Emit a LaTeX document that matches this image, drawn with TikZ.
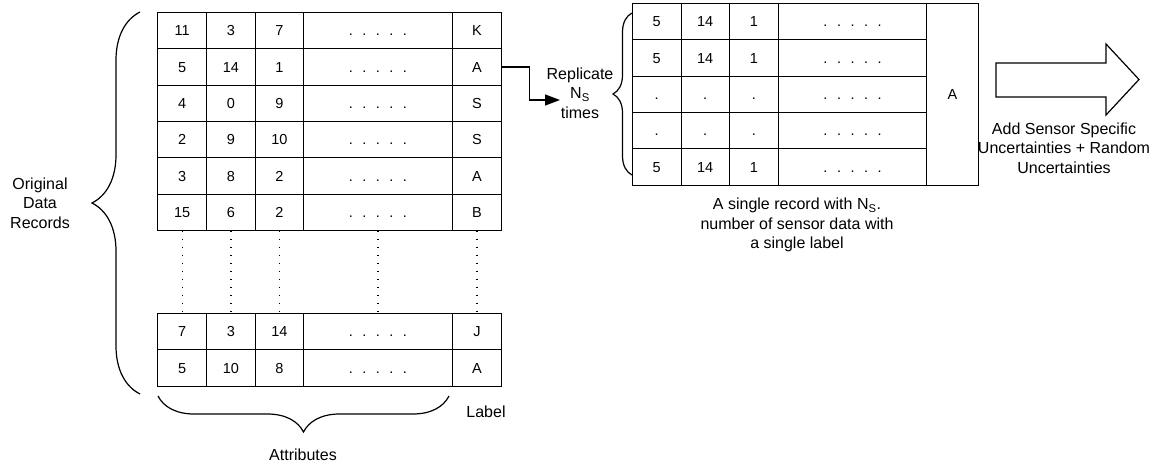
\documentclass[tikz,border=0pt]{standalone}
\usepackage{fontspec}
\setmainfont{Liberation Sans}
\usetikzlibrary{arrows.meta,positioning,decorations.pathreplacing}

\newcommand{\fivedots}{.\hspace{9.5pt}.\hspace{9.5pt}.\hspace{9.5pt}.\hspace{9.5pt}.}

\begin{document}
\begin{tikzpicture}[x=1pt, y=-1pt]
\tikzset{
    cell/.style={rectangle, draw=black, line width=0.9pt, minimum height=36.4pt, inner sep=0pt, outer sep=0pt,
      text height=10.5pt, text depth=0pt, font=\fontsize{14.5}{16}\selectfont},
    mybrace/.style={decorate, line width=1.2pt},
    myarrow/.style={-{Triangle[length=15pt, width=11pt]}, line width=1.3pt},
    mylabel/.style={align=center, inner sep=0pt, font=\fontsize{16}{19.5}\selectfont}
}
\useasboundingbox (0,0) rectangle (1169,476);

% original records, one row per line
\foreach \r/\a/\b/\c/\l/\y in {1/11/3/7/K/30.5, 2/5/14/1/A/66.9, 3/4/0/9/S/103.3, 4/2/9/10/S/139.7,
    5/3/8/2/A/176.1, 6/15/6/2/B/212.5, 7/7/3/14/J/331.7, 8/5/10/8/A/368.1}{
  \node[cell, minimum width=49pt] (L\r-1) at (182.2,\y) {\a};
  \node[cell, minimum width=48.5pt, right=0pt of L\r-1] (L\r-2) {\b};
  \node[cell, minimum width=48.5pt, right=0pt of L\r-2] (L\r-3) {\c};
  \node[cell, minimum width=148.5pt, right=0pt of L\r-3] (L\r-4) {\fivedots};
  \node[cell, minimum width=49.5pt, right=0pt of L\r-4] (L\r-5) {\l};
}
\foreach \k in {1,...,5}
  \draw[line width=1.3pt, dash pattern=on 1.3pt off 6.7pt] (L6-\k.south) -- (L7-\k.north);

% replicated record
\foreach \r/\a/\b/\c/\y in {1/5/14/1/21.5, 2/5/14/1/57.9, 3/./././94.3, 4/./././130.7, 5/5/14/1/167.1}{
  \node[cell, minimum width=48.7pt] (R\r-1) at (656.7,\y) {\a};
  \node[cell, minimum width=48.3pt, right=0pt of R\r-1] (R\r-2) {\b};
  \node[cell, minimum width=49pt, right=0pt of R\r-2] (R\r-3) {\c};
  \node[cell, minimum width=148.4pt, right=0pt of R\r-3] (R\r-4) {\fivedots};
}
\node[cell, minimum width=51.3pt, minimum height=182pt, anchor=north west] (Rlabel) at (R1-4.north east) {A};

% braces
\coordinate (recTop) at (140,12);
\coordinate (recBot) at (140,394);
\draw[mybrace, decoration={brace, amplitude=48pt}] (recBot) -- (recTop);
\coordinate (attLeft) at (158,396);
\coordinate (attRight) at (449,396);
\draw[mybrace, decoration={brace, amplitude=36pt}] (attRight) -- (attLeft);
\coordinate (repTop) at (632,13);
\coordinate (repBot) at (632,175);
\draw[mybrace, decoration={brace, amplitude=19pt}] (repBot) -- (repTop);

% texts
\node[mylabel] (records) at (40,203) {Original\\Data\\Records};
\node[mylabel] (attributes) at (303,455) {Attributes};
\node[mylabel] (labeltext) at (486,412) {Label};
\node[mylabel] (replicate) at (580,93) {Replicate\\N\textsubscript{S}\\times};
\node[mylabel] (single) at (797,225) {A single record with N\textsubscript{S}.\\number of sensor data with\\a single label};
\node[mylabel] (uncert) at (1064,148) {Add Sensor Specific\\Uncertainties + Random\\Uncertainties};

% replicate arrow
\coordinate (repEnd) at (560,100);
\draw[myarrow] (L2-5.east) -- ++(28,0) |- (repEnd);

% big hollow arrow
\draw[line width=1.2pt, line join=miter] (996,63) -- (1106,63) -- (1106,44) -- (1139,79.5)
    -- (1106,115) -- (1106,97) -- (996,97) -- cycle;
\end{tikzpicture}
\end{document}
